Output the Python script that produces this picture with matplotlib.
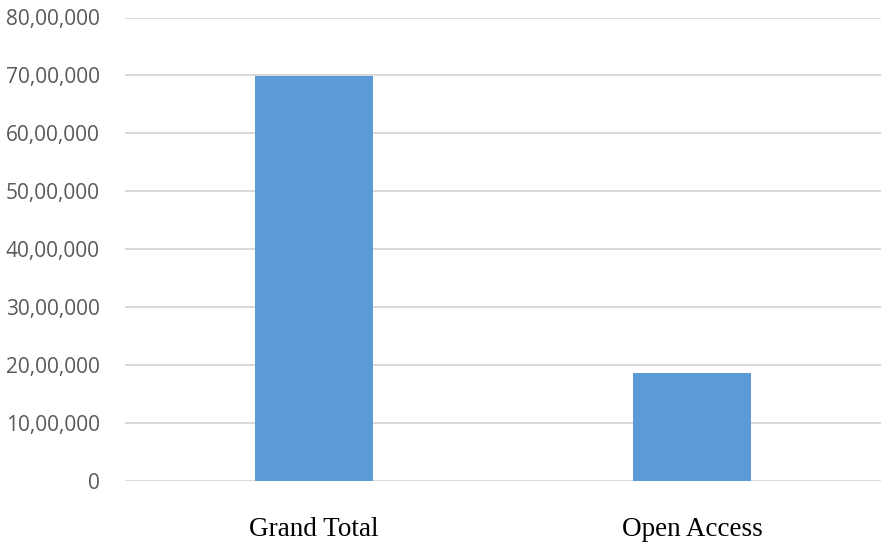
import matplotlib
matplotlib.use('Agg')
import matplotlib.pyplot as plt
from matplotlib.ticker import FuncFormatter

# Data
categories = ['Grand Total', 'Open Access']
values = [6990000, 1860000]
y_ticks = [0, 1000000, 2000000, 3000000, 4000000, 5000000, 6000000, 7000000, 8000000]


def indian_format(v, pos=None):
    """Format a number with Indian digit grouping (e.g. 80,00,000)."""
    n = int(round(v))
    s = str(n)
    if len(s) <= 3:
        return s
    last3 = s[-3:]
    rest = s[:-3]
    groups = []
    while len(rest) > 2:
        groups.insert(0, rest[-2:])
        rest = rest[:-2]
    if rest:
        groups.insert(0, rest)
    return ','.join(groups) + ',' + last3


fig = plt.figure(figsize=(8.82, 5.43), dpi=100)
ax = fig.add_axes([125 / 882, 1 - 481 / 543, 756 / 882, (481 - 17.5) / 543])

x = range(len(categories))
ax.bar(x, values, width=0.312, color='#5b9bd5', zorder=3)

ax.set_xlim(-0.5, len(categories) - 0.5)
ax.set_ylim(0, 8000000)
ax.set_yticks(y_ticks)
ax.yaxis.set_major_formatter(FuncFormatter(indian_format))
ax.set_xticks(list(x))
ax.set_xticklabels(categories, fontfamily='Liberation Serif', fontsize=19.5, color='black')

ax.grid(axis='y', color='#d9d9d9', linewidth=1.4, zorder=0)
ax.set_axisbelow(True)
for s in ax.spines.values():
    s.set_visible(False)

ax.tick_params(axis='y', length=0, pad=18, labelsize=15, labelcolor='#595959')
for lbl in ax.get_yticklabels():
    lbl.set_fontfamily('Open Sans')
ax.tick_params(axis='x', length=0, pad=26)

plt.savefig('out.png', dpi=100)
plt.close()
